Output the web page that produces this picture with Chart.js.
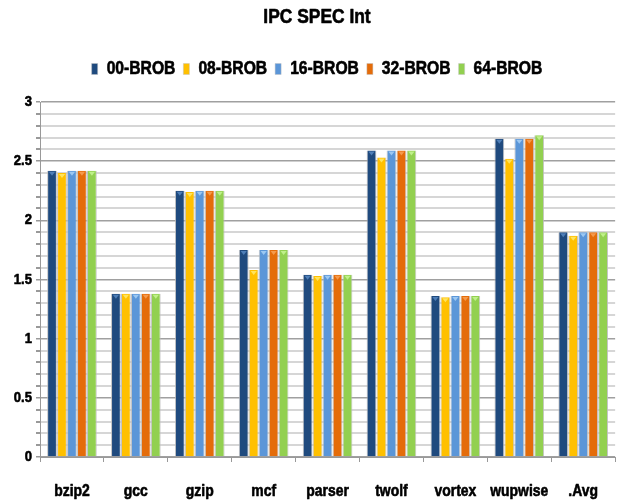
<!DOCTYPE html>
<html>
<head>
<meta charset="utf-8">
<script src="https://cdn.jsdelivr.net/npm/chart.js@4/dist/chart.umd.min.js"></script>
<style>
  html, body { margin: 0; padding: 0; background: #ffffff; }
  #wrap { width: 618px; height: 504px; }
</style>
</head>
<body>
<div id="wrap"><canvas id="c" width="618" height="504"></canvas></div>
<script>
// Benchmarks on the x axis
const benchmarks = ['bzip2', 'gcc', 'gzip', 'mcf', 'parser', 'twolf', 'vortex', 'wupwise', '.Avg'];

// IPC per reorder-buffer configuration
const ipc00 = [2.42, 1.38, 2.25, 1.75, 1.54, 2.59, 1.36, 2.69, 1.90];
const ipc08 = [2.40, 1.38, 2.24, 1.58, 1.53, 2.53, 1.35, 2.52, 1.87];
const ipc16 = [2.42, 1.38, 2.25, 1.75, 1.54, 2.59, 1.36, 2.69, 1.90];
const ipc32 = [2.42, 1.38, 2.25, 1.75, 1.54, 2.59, 1.36, 2.69, 1.90];
const ipc64 = [2.42, 1.38, 2.25, 1.75, 1.54, 2.59, 1.36, 2.72, 1.90];

const seriesNames = ['00-BROB', '08-BROB', '16-BROB', '32-BROB', '64-BROB'];
const seriesValues = [ipc00, ipc08, ipc16, ipc32, ipc64];
const seriesColors = ['#1f4a7e', '#ffc000', '#5b96d8', '#e46c0a', '#92d050'];
const seriesHighlights = ['#4f7fb8', '#ffe45c', '#9cc8f2', '#f59a4c', '#bff08a'];

// Y axis: labelled every 0.5, light grid every 0.1
const yMin = 0, yMax = 3, yStep = 0.1, yLabelEvery = 0.5;

const FONT = "'Liberation Sans', Arial, sans-serif";
const NARROW = 0.87; // horizontal squeeze for a narrow bold face

const canvas = document.getElementById('c');
const ctx2d = canvas.getContext('2d');

// Condensed, heavy text: squeeze glyphs horizontally around the anchor point
const baseFill = ctx2d.fillText.bind(ctx2d);
const baseStroke = ctx2d.strokeText.bind(ctx2d);
const baseMeasure = ctx2d.measureText.bind(ctx2d);
ctx2d.fillText = function (text, x, y, maxWidth) {
  this.save();
  this.translate(x, y);
  this.scale(NARROW, 1);
  this.strokeStyle = this.fillStyle;
  this.lineWidth = 0.6;
  this.lineJoin = 'round';
  if (maxWidth !== undefined) {
    baseFill(text, 0, 0, maxWidth / NARROW);
    baseStroke(text, 0, 0, maxWidth / NARROW);
  } else {
    baseFill(text, 0, 0);
    baseStroke(text, 0, 0);
  }
  this.restore();
};
ctx2d.measureText = function (text) {
  const m = baseMeasure(text);
  return {
    width: m.width * NARROW,
    actualBoundingBoxAscent: m.actualBoundingBoxAscent,
    actualBoundingBoxDescent: m.actualBoundingBoxDescent,
    actualBoundingBoxLeft: m.actualBoundingBoxLeft * NARROW,
    actualBoundingBoxRight: m.actualBoundingBoxRight * NARROW
  };
};

const isMajor = v => Math.abs(v / yLabelEvery - Math.round(v / yLabelEvery)) < 1e-6;

// Extra room between the legend row and the plot
const legendGap = {
  id: 'legendGap',
  beforeInit(chart) {
    const lg = chart.legend;
    if (!lg) return;
    const fit = lg.fit.bind(lg);
    lg.fit = function () { fit(); this.height += 14; };
  },
  // centre title and legend a little right of the canvas middle
  afterLayout(chart) {
    if (chart.titleBlock) chart.titleBlock.left += 16;
    if (chart.legend) chart.legend.left += 16;
  }
};

// Small light wedge at the top of every bar
const barCaps = {
  id: 'barCaps',
  afterDatasetsDraw(chart) {
    const ctx = chart.ctx;
    chart.data.datasets.forEach((ds, di) => {
      const meta = chart.getDatasetMeta(di);
      meta.data.forEach(bar => {
        const w = bar.width;
        ctx.save();
        ctx.fillStyle = seriesHighlights[di];
        ctx.beginPath();
        ctx.moveTo(bar.x - w * 0.32, bar.y + 1);
        ctx.lineTo(bar.x + w * 0.32, bar.y + 1);
        ctx.lineTo(bar.x, bar.y + 5);
        ctx.closePath();
        ctx.fill();
        ctx.restore();
      });
    });
  }
};

new Chart(canvas, {
  type: 'bar',
  data: {
    labels: benchmarks,
    datasets: seriesNames.map((name, i) => ({
      label: name,
      data: seriesValues[i],
      backgroundColor: seriesColors[i],
      borderColor: 'rgba(190,190,190,0.9)',
      borderWidth: { top: 0, left: 1, right: 1, bottom: 0 },
      categoryPercentage: 0.78,
      barPercentage: 0.98
    }))
  },
  plugins: [legendGap, barCaps],
  options: {
    responsive: false,
    animation: false,
    layout: { padding: { left: 0, right: 0, top: 0, bottom: 0 } },
    plugins: {
      title: {
        display: true,
        text: 'IPC SPEC Int',
        color: '#000',
        font: { family: FONT, size: 20, weight: 'bold' },
        padding: { top: 5, bottom: 23 }
      },
      legend: {
        position: 'top',
        labels: {
          color: '#000',
          font: { family: FONT, size: 18, weight: 'bold' },
          boxWidth: 6,
          boxHeight: 11,
          padding: 8
        }
      },
      tooltip: { enabled: false }
    },
    scales: {
      x: {
        offset: true,
        border: { display: true, color: '#999', width: 1 },
        grid: { display: true, drawOnChartArea: false, drawTicks: true, tickLength: 5, color: '#999', offset: true },
        ticks: {
          color: '#000',
          font: { family: FONT, size: 16, weight: 'bold' },
          maxRotation: 0,
          minRotation: 0,
          autoSkip: false,
          padding: 20
        },
        afterFit: s => { s.height = 47; }
      },
      y: {
        min: yMin,
        max: yMax,
        border: { display: true, color: '#999', width: 1 },
        grid: {
          color: ctx => isMajor(ctx.tick.value) ? '#a0a0a0' : '#d6d6d6',
          lineWidth: ctx => isMajor(ctx.tick.value) ? 1.5 : 2,
          tickLength: 4,
          tickColor: '#999'
        },
        ticks: {
          stepSize: yStep,
          autoSkip: false,
          color: '#000',
          font: { family: FONT, size: 15, weight: 'bold' },
          padding: 4,
          callback: v => isMajor(v) ? String(Math.round(v * 10) / 10) : ''
        },
        afterFit: s => { s.width = 40; }
      }
    }
  }
});
</script>
</body>
</html>
